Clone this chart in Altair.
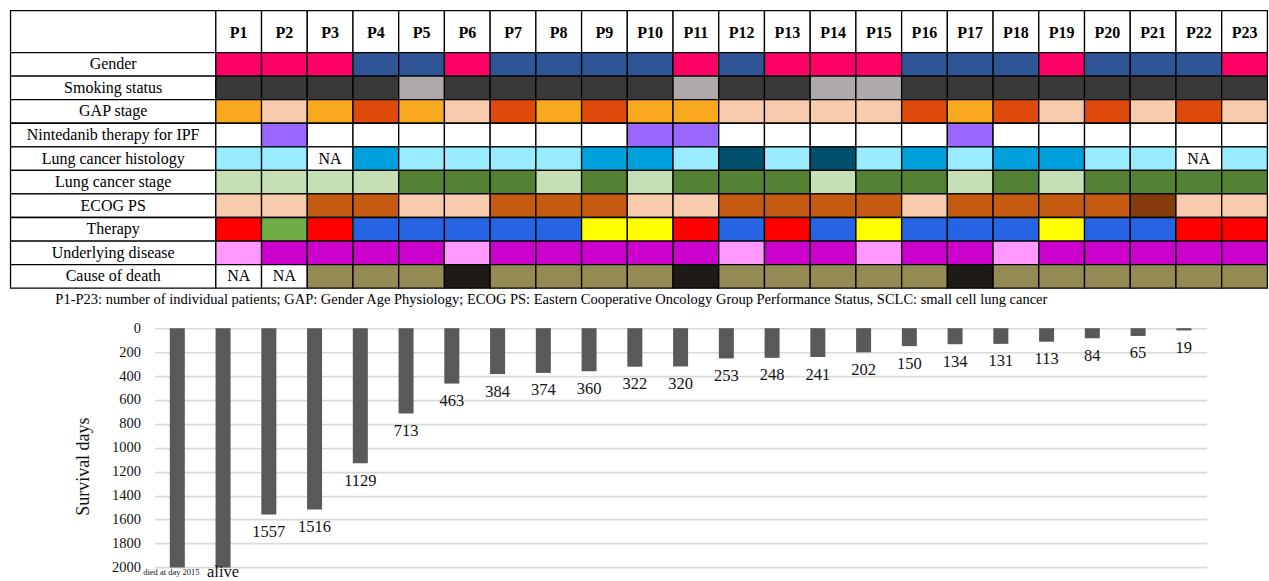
import altair as alt
import pandas as pd

FONT = "Liberation Serif"

patients = [f"P{i}" for i in range(1, 24)]
row_names = ["Gender", "Smoking status", "GAP stage", "Nintedanib therapy for IPF",
             "Lung cancer histology", "Lung cancer stage", "ECOG PS", "Therapy",
             "Underlying disease", "Cause of death"]

gender = ["F", "F", "F", "M", "M", "F", "M", "M", "M", "M", "F", "M", "F", "F", "F", "M", "M", "M", "F", "M", "M", "M", "F"]
smoking = ["S", "S", "S", "S", "N", "S", "S", "S", "S", "S", "N", "S", "S", "N", "N", "S", "S", "S", "S", "S", "S", "S", "S"]
gap = ["II", "I", "II", "III", "II", "I", "III", "II", "III", "II", "II", "I", "I", "I", "I", "III", "II", "III", "I", "III", "I", "III", "I"]
nintedanib = ["no", "yes", "no", "no", "no", "no", "no", "no", "no", "yes", "yes", "no", "no", "no", "no", "no", "yes", "no", "no", "no", "no", "no", "no"]
histology = ["h1", "h1", "NA", "h2", "h1", "h1", "h1", "h1", "h2", "h2", "h1", "h3", "h1", "h3", "h1", "h2", "h1", "h2", "h2", "h1", "h1", "NA", "h1"]
stage = ["s1", "s1", "s1", "s1", "s2", "s2", "s2", "s1", "s2", "s1", "s2", "s2", "s2", "s1", "s2", "s2", "s1", "s2", "s1", "s2", "s2", "s2", "s2"]
ecog = ["0", "0", "1", "1", "0", "0", "1", "1", "1", "0", "0", "1", "1", "1", "1", "0", "1", "1", "1", "1", "2", "0", "0"]
therapy = ["t1", "t2", "t1", "t3", "t3", "t3", "t3", "t3", "t4", "t4", "t1", "t3", "t1", "t3", "t4", "t3", "t3", "t3", "t4", "t3", "t3", "t1", "t1"]
underlying = ["u1", "u2", "u2", "u2", "u2", "u1", "u2", "u2", "u2", "u2", "u2", "u1", "u2", "u2", "u1", "u2", "u2", "u1", "u2", "u2", "u2", "u2", "u2"]
cause = ["NA", "NA", "c1", "c1", "c1", "c2", "c1", "c1", "c1", "c1", "c2", "c1", "c1", "c1", "c1", "c1", "c2", "c1", "c1", "c1", "c1", "c1", "c1"]

survival_days = [2015, None, 1557, 1516, 1129, 713, 463, 384, 374, 360, 322, 320, 253,
                 248, 241, 202, 150, 134, 131, 113, 84, 65, 19]
special_labels = {"P1": "died at day 2015", "P2": "alive"}
y_ticks = [0, 200, 400, 600, 800, 1000, 1200, 1400, 1600, 1800, 2000]

footnote = ("P1-P23: number of individual patients; GAP: Gender Age Physiology; ECOG PS: "
            "Eastern Cooperative Oncology Group Performance Status, SCLC: small cell lung cancer")

palettes = [
    {"F": "#FF0066", "M": "#2F5597"},
    {"S": "#3B3838", "N": "#AEAAAA"},
    {"I": "#F8CBAD", "II": "#F9A91E", "III": "#DD4A0C"},
    {"yes": "#9966FF", "no": "#FFFFFF"},
    {"h1": "#99EBFF", "h2": "#00A0DC", "h3": "#004F6B", "NA": "#FFFFFF"},
    {"s1": "#C5E0B4", "s2": "#548235"},
    {"0": "#F8CBAD", "1": "#C55A11", "2": "#843C0C"},
    {"t1": "#FF0000", "t2": "#70AD47", "t3": "#2764E3", "t4": "#FFFF00"},
    {"u1": "#FF99FF", "u2": "#CC00CC"},
    {"c1": "#948A54", "c2": "#1E1B16", "NA": "#FFFFFF"},
]
rows_data = [gender, smoking, gap, nintedanib, histology, stage, ecog, therapy, underlying, cause]

# ---- table geometry in row / column units ----
HEADER = 1.78          # header row height in row units
LABEL_W = 4.49         # label column width in column units
N = len(patients)
Y_MAX = HEADER + len(row_names)

rect_rows = []
text_rows = []
rect_rows.append(dict(x=-LABEL_W, x2=0, y=0, y2=HEADER, fill="#FFFFFF"))
for i, p in enumerate(patients):
    rect_rows.append(dict(x=i, x2=i + 1, y=0, y2=HEADER, fill="#FFFFFF"))
header_text = pd.DataFrame([dict(x=i + 0.5, y=HEADER / 2 + 0.05, text=p) for i, p in enumerate(patients)])
for r, (name, vals, pal) in enumerate(zip(row_names, rows_data, palettes)):
    y0 = HEADER + r
    rect_rows.append(dict(x=-LABEL_W, x2=0, y=y0, y2=y0 + 1, fill="#FFFFFF"))
    text_rows.append(dict(x=-LABEL_W / 2, y=y0 + 0.5, text=name))
    for i, v in enumerate(vals):
        rect_rows.append(dict(x=i, x2=i + 1, y=y0, y2=y0 + 1, fill=pal[v]))
        if v == "NA":
            text_rows.append(dict(x=i + 0.5, y=y0 + 0.5, text="NA"))

rect_df = pd.DataFrame(rect_rows)
text_df = pd.DataFrame(text_rows)
foot_df = pd.DataFrame([dict(x=-3.51, y=Y_MAX + 0.51, text=footnote)])

xs = alt.Scale(domain=[0, N], range=[61.4, 1113.4], nice=False, zero=False)
ys = alt.Scale(domain=[0, Y_MAX], reverse=True, nice=False, zero=False)

cells = alt.Chart(rect_df).mark_rect(stroke="black", strokeWidth=1.3).encode(
    x=alt.X("x:Q", scale=xs, axis=None),
    x2="x2:Q",
    y=alt.Y("y:Q", scale=ys, axis=None),
    y2="y2:Q",
    color=alt.Color("fill:N", scale=None),
)
labels = alt.Chart(text_df).mark_text(font=FONT, fontSize=16, color="black", baseline="middle").encode(
    x=alt.X("x:Q", scale=xs, axis=None), y=alt.Y("y:Q", scale=ys, axis=None), text="text:N")
headers = alt.Chart(header_text).mark_text(font=FONT, fontSize=16, fontWeight="bold", color="black",
                                           baseline="middle").encode(
    x=alt.X("x:Q", scale=xs, axis=None), y=alt.Y("y:Q", scale=ys, axis=None), text="text:N")
foot = alt.Chart(foot_df).mark_text(font=FONT, fontSize=14.5, color="black", align="left",
                                    baseline="middle").encode(
    x=alt.X("x:Q", scale=xs, axis=None), y=alt.Y("y:Q", scale=ys, axis=None), text="text:N")

table = alt.layer(cells, labels, headers, foot).properties(width=1113.4, height=277.7)

# ---- bar chart ----
AXIS_MAX = y_ticks[-1]
bar_df = pd.DataFrame({
    "patient": patients,
    "days": [AXIS_MAX if v is None else v for v in survival_days],
    "label": [special_labels.get(p, "" if v is None else str(v)) for p, v in zip(patients, survival_days)],
})
bar_df["special"] = bar_df["patient"].isin(list(special_labels))

xb = alt.X("patient:N", sort=patients, scale=alt.Scale(paddingInner=0.672, paddingOuter=0.336), axis=None)
yscale = alt.Scale(domain=[0, AXIS_MAX], reverse=True, clamp=True, nice=False, zero=True)
y_axis = alt.Axis(values=y_ticks, tickCount=len(y_ticks), format="d", labelOverlap=False,
                  title="Survival days",
                  domain=False, ticks=False, grid=True, gridColor="#D9D9D9", gridWidth=1.6,
                  labelFont=FONT, labelFontSize=14.5, labelColor="#111111", labelPadding=14,
                  titleFont=FONT, titleFontSize=18, titleFontWeight="normal", titleColor="#111111",
                  titleX=-71, titleY=138, titleAngle=270, titleAlign="center",
                  titleBaseline="middle")
y_enc = alt.Y("days:Q", scale=yscale, axis=y_axis)

bars = alt.Chart(bar_df).mark_bar(color="#595959").encode(x=xb, y=y_enc)
values = alt.Chart(bar_df).transform_filter("!datum.special").mark_text(
    font=FONT, fontSize=16.5, color="#111111", baseline="middle", dy=17.5).encode(
    x=xb, y=y_enc, text="label:N")
died = alt.Chart(bar_df).transform_filter("datum.patient == 'P1'").mark_text(
    font=FONT, fontSize=8.5, color="#111111", baseline="alphabetic", dy=8, dx=-6).encode(
    x=xb, y=y_enc, text="label:N")
alive = alt.Chart(bar_df).transform_filter("datum.patient == 'P2'").mark_text(
    font=FONT, fontSize=16.5, color="#111111", baseline="alphabetic", dy=9.7).encode(
    x=xb, y=y_enc, text="label:N")

barchart = alt.layer(bars, values, died, alive).properties(width=1052.7, height=239.3)

chart = alt.vconcat(table, barchart, spacing=39.7, bounds="flush").properties(
    padding={"left": 9.5, "top": 9.5, "right": 0, "bottom": 0},
    background="white",
).configure_view(stroke=None)

chart.save("out.html", embed_options={"renderer": "svg", "actions": False})
